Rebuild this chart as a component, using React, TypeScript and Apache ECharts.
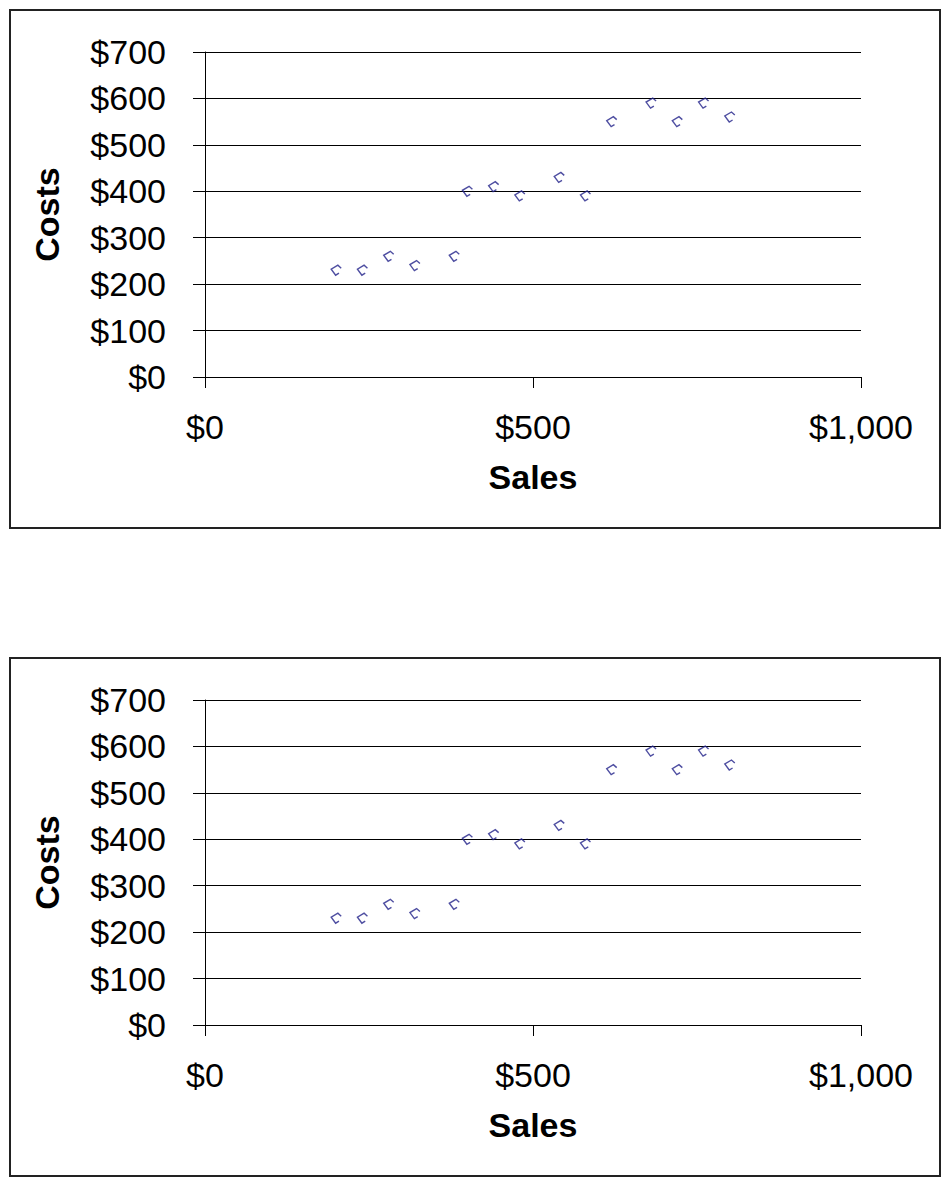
import React, { useEffect, useRef } from "react";
import * as echarts from "echarts";

const salesValues = [200, 240, 280, 320, 380, 400, 440, 480, 540, 580, 620, 680, 720, 760, 800];
const costValues = [230, 230, 260, 240, 260, 400, 410, 390, 430, 390, 550, 590, 550, 590, 560];
const xTickValues = [0, 500, 1000];
const yTickValues = [0, 100, 200, 300, 400, 500, 600, 700];

const FONT = "'Liberation Sans', Arial, sans-serif";
const MARKER = "path://M9,3 L6,0 L0,4 L4,10 L7,8";

const fmt = (v: number) => "$" + v.toLocaleString("en-US");

export default function App() {
  const ref = useRef<HTMLDivElement>(null);
  useEffect(() => {
    if (!ref.current) return;
    const chart = echarts.init(ref.current, undefined, { renderer: "svg" });
    const offsets = [0, 648];
    const points = salesValues.map((s, i) => [s, costValues[i]]);
    const grids = offsets.map((o) => ({ left: 205, right: 87, top: 52 + o, height: 325 }));
    const xAxes = offsets.map((_, i) => ({
      type: "value",
      gridIndex: i,
      min: xTickValues[0],
      max: xTickValues[xTickValues.length - 1],
      interval: 500,
      name: "Sales",
      nameLocation: "middle",
      nameGap: 83,
      nameTextStyle: { fontFamily: FONT, fontSize: 34, fontWeight: "bold", color: "#000", verticalAlign: "top" },
      axisLine: { show: false },
      axisTick: { show: true, inside: false, length: 11, lineStyle: { color: "#000", width: 1 } },
      splitLine: { show: false },
      axisLabel: { formatter: fmt, fontFamily: FONT, fontSize: 34, color: "#000", margin: 33, verticalAlign: "top" },
    }));
    const yAxes = offsets.map((_, i) => ({
      type: "value",
      gridIndex: i,
      min: yTickValues[0],
      max: yTickValues[yTickValues.length - 1],
      interval: 100,
      name: "Costs",
      nameLocation: "middle",
      nameGap: 141,
      nameRotate: 90,
      nameTextStyle: { fontFamily: FONT, fontSize: 34, fontWeight: "bold", color: "#000" },
      axisLine: { show: true, lineStyle: { color: "#000", width: 1 } },
      axisTick: { show: true, inside: false, length: 12, lineStyle: { color: "#000", width: 1 } },
      splitLine: { show: true, lineStyle: { color: "#000", width: 1 } },
      axisLabel: { formatter: fmt, fontFamily: FONT, fontSize: 34, color: "#000", margin: 39 },
    }));
    const series = offsets.map((_, i) => ({
      type: "scatter",
      xAxisIndex: i,
      yAxisIndex: i,
      data: points,
      symbol: MARKER,
      symbolSize: 10,
      itemStyle: { color: "transparent", borderColor: "#22228a", borderWidth: 1.4 },
    }));
    chart.setOption({
      animation: false,
      backgroundColor: "#fff",
      grid: grids,
      xAxis: xAxes,
      yAxis: yAxes,
      series,
      graphic: offsets.map((o) => ({
        type: "rect",
        shape: { x: 10, y: 10 + o, width: 930, height: 518 },
        style: { fill: "none", stroke: "#222", lineWidth: 2 },
        silent: true,
      })),
    });
    return () => chart.dispose();
  }, []);
  return (
    <div
      ref={ref}
      style={{ position: "absolute", left: 0, top: 0, width: 948, height: 1185 }}
    />
  );
}
